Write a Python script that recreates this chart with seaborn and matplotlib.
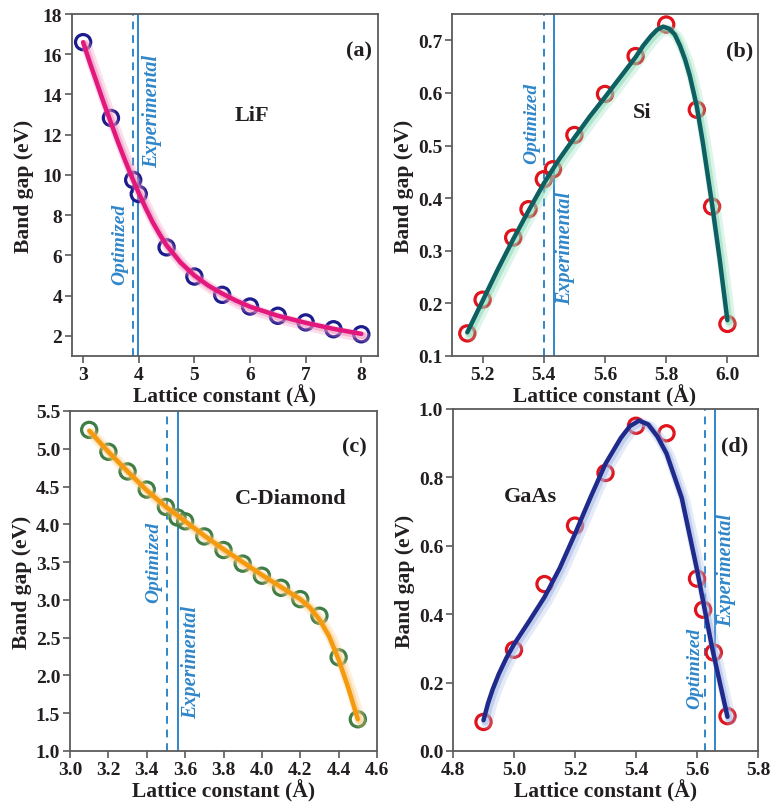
import matplotlib
matplotlib.use("Agg")
import matplotlib.pyplot as plt
import matplotlib.patheffects as pe
import seaborn as sns

# ---------------- LiF ----------------
lif_a = [3.0, 3.5, 3.9, 4.0, 4.5, 5.0, 5.5, 6.0, 6.5, 7.0, 7.5, 8.0]
lif_gap = [16.6, 12.83, 9.75, 9.05, 6.40, 4.95, 4.04, 3.46, 3.0, 2.67, 2.33, 2.08]
lif_fit_a = [3.0, 3.125, 3.25, 3.375, 3.5, 3.625, 3.75, 3.875, 4.0, 4.125, 4.25, 4.375,
             4.5, 4.75, 5.0, 5.25, 5.5, 5.75, 6.0, 6.5, 7.0, 7.5, 8.0]
lif_fit_gap = [16.6, 15.55, 14.55, 13.55, 12.6, 11.65, 10.75, 9.9, 9.1, 8.35, 7.65, 7.05,
               6.5, 5.65, 5.0, 4.5, 4.1, 3.75, 3.45, 3.0, 2.65, 2.35, 2.1]
lif_opt, lif_exp = 3.89, 3.98

# ---------------- Si ----------------
si_a = [5.15, 5.2, 5.3, 5.35, 5.40, 5.43, 5.5, 5.6, 5.7, 5.8, 5.9, 5.95, 6.0]
si_gap = [0.143, 0.207, 0.325, 0.379, 0.436, 0.455, 0.520, 0.598, 0.670, 0.730, 0.568, 0.384, 0.161]
si_fit_a = [5.15, 5.2, 5.25, 5.3, 5.35, 5.4, 5.45, 5.5, 5.55, 5.6, 5.65, 5.7, 5.725, 5.75,
            5.77, 5.79, 5.81, 5.828, 5.845, 5.862, 5.877, 5.89, 5.9, 5.92, 5.95, 5.975, 6.0]
si_fit_gap = [0.145, 0.205, 0.265, 0.322, 0.376, 0.428, 0.474, 0.515, 0.555, 0.592, 0.630, 0.668,
              0.690, 0.708, 0.720, 0.726, 0.722, 0.711, 0.690, 0.663, 0.633, 0.600, 0.574, 0.505,
              0.388, 0.283, 0.168]
si_opt, si_exp = 5.402, 5.434

# ---------------- C-Diamond ----------------
c_a = [3.1, 3.2, 3.3, 3.4, 3.5, 3.56, 3.6, 3.7, 3.8, 3.9, 4.0, 4.1, 4.2, 4.3, 4.4, 4.5]
c_gap = [5.25, 4.96, 4.70, 4.46, 4.23, 4.09, 4.04, 3.84, 3.66, 3.48, 3.32, 3.16, 3.01, 2.79, 2.24, 1.42]
c_fit_a = [3.1, 3.2, 3.3, 3.4, 3.5, 3.6, 3.7, 3.8, 3.9, 4.0, 4.1, 4.2, 4.25, 4.3, 4.35,
           4.4, 4.45, 4.5]
c_fit_gap = [5.24, 4.96, 4.70, 4.45, 4.23, 4.04, 3.85, 3.67, 3.50, 3.33, 3.17, 3.01, 2.90,
             2.74, 2.52, 2.21, 1.84, 1.42]
c_opt, c_exp = 3.508, 3.565

# ---------------- GaAs ----------------
gaas_a = [4.9, 5.0, 5.1, 5.2, 5.3, 5.4, 5.5, 5.6, 5.62, 5.655, 5.7]
gaas_gap = [0.085, 0.296, 0.488, 0.659, 0.813, 0.951, 0.929, 0.504, 0.413, 0.288, 0.102]
gaas_fit_a = [4.9, 4.915, 4.93, 4.95, 4.975, 5.0, 5.05, 5.1, 5.15, 5.2, 5.25, 5.3, 5.35, 5.38,
              5.41, 5.44, 5.47, 5.5, 5.55, 5.6, 5.65, 5.7]
gaas_fit_gap = [0.09, 0.14, 0.18, 0.225, 0.272, 0.312, 0.38, 0.45, 0.535, 0.635, 0.74, 0.84,
                0.915, 0.95, 0.966, 0.955, 0.92, 0.87, 0.74, 0.53, 0.30, 0.10]
gaas_opt, gaas_exp = 5.625, 5.66

sns.set_style("ticks")
plt.rcParams["font.family"] = ["Liberation Serif", "DejaVu Serif"]
plt.rcParams["font.weight"] = "bold"
plt.rcParams["axes.labelweight"] = "bold"

SPINE = "#5b5b5b"
TEXT = "#231f20"
REF = "#2f86c9"

W, H = 771, 803
fig = plt.figure(figsize=(W / 100, H / 100), dpi=100)


def box(l, t, r, b):
    return [l / W, 1 - b / H, (r - l) / W, (b - t) / H]


panels = [
    dict(rect=box(72, 15, 378, 357), a=lif_a, g=lif_gap, fa=lif_fit_a, fg=lif_fit_gap,
         opt=lif_opt, exp=lif_exp, line="#e2187c", glow="#f08bbb", mk="#1c1c8c",
         xlim=(2.8, 8.3), ylim=(1, 18), xt=[3, 4, 5, 6, 7, 8], yt=list(range(2, 19, 2)),
         xf="{:.0f}", yf="{:.0f}", name="LiF", name_xy=(6.03, 13.0), tag="(a)", tag_xy=(7.96, 16.2),
         opt_xy=(3.66, 6.6), exp_xy=(4.24, 13.2)),
    dict(rect=box(452, 15, 758, 357), a=si_a, g=si_gap, fa=si_fit_a, fg=si_fit_gap,
         opt=si_opt, exp=si_exp, line="#0d5f62", glow="#86d9b4", mk="#e0141c",
         xlim=(5.1, 6.1), ylim=(0.1, 0.75), xt=[5.2, 5.4, 5.6, 5.8, 6.0],
         yt=[0.1, 0.2, 0.3, 0.4, 0.5, 0.6, 0.7], xf="{:.1f}", yf="{:.1f}", name="Si",
         name_xy=(5.72, 0.563), tag="(b)", tag_xy=(6.04, 0.681),
         opt_xy=(5.361, 0.544), exp_xy=(5.47, 0.306)),
    dict(rect=box(70, 412, 377, 752), a=c_a, g=c_gap, fa=c_fit_a, fg=c_fit_gap,
         opt=c_opt, exp=c_exp, line="#f59a0e", glow="#f9c77a", mk="#3f7d46",
         xlim=(3.0, 4.6), ylim=(1.0, 5.5), xt=[3.0, 3.2, 3.4, 3.6, 3.8, 4.0, 4.2, 4.4, 4.6],
         yt=[1.0, 1.5, 2.0, 2.5, 3.0, 3.5, 4.0, 4.5, 5.0, 5.5], xf="{:.1f}", yf="{:.1f}",
         name="C-Diamond", name_xy=(4.148, 4.35), tag="(c)", tag_xy=(4.48, 5.03),
         opt_xy=(3.438, 3.513), exp_xy=(3.631, 2.19)),
    dict(rect=box(453, 410, 758, 752), a=gaas_a, g=gaas_gap, fa=gaas_fit_a, fg=gaas_fit_gap,
         opt=gaas_opt, exp=gaas_exp, line="#1f2a8c", glow="#9fb6e4", mk="#e0141c",
         xlim=(4.8, 5.8), ylim=(0.0, 1.0), xt=[4.8, 5.0, 5.2, 5.4, 5.6, 5.8],
         yt=[0.0, 0.2, 0.4, 0.6, 0.8, 1.0], xf="{:.1f}", yf="{:.1f}", name="GaAs",
         name_xy=(5.053, 0.746), tag="(d)", tag_xy=(5.723, 0.894),
         opt_xy=(5.593, 0.244), exp_xy=(5.696, 0.532)),
]

for p in panels:
    ax = fig.add_axes(p["rect"])

    ax.axvline(p["opt"], color=REF, lw=1.4, ls=(0, (4, 3)), zorder=1)
    ax.axvline(p["exp"], color=REF, lw=1.4, zorder=1)

    sns.scatterplot(x=p["a"], y=p["g"], ax=ax, marker="o", s=120, facecolors="none",
                    edgecolors=p["mk"], linewidth=2.3, zorder=3)

    # soft halo offset to the lower right of the fitted curve
    glow = [
        pe.SimpleLineShadow(offset=(2.2, -2.2), shadow_color=p["glow"], alpha=0.28, linewidth=8),
        pe.SimpleLineShadow(offset=(1.3, -1.3), shadow_color=p["glow"], alpha=0.5, linewidth=5),
        pe.Normal(),
    ]
    sns.lineplot(x=p["fa"], y=p["fg"], ax=ax, color=p["line"], lw=3.2, sort=False,
                 estimator=None, zorder=4, path_effects=glow)

    ax.set_xlim(*p["xlim"])
    ax.set_ylim(*p["ylim"])
    ax.set_xticks(p["xt"])
    ax.set_yticks(p["yt"])
    ax.set_xticklabels([p["xf"].format(v) for v in p["xt"]])
    ax.set_yticklabels([p["yf"].format(v) for v in p["yt"]])
    ax.tick_params(direction="out", length=5, width=1.2, color=SPINE, labelsize=14,
                   labelcolor=TEXT, pad=2, top=False, right=False)
    for s in ax.spines.values():
        s.set_color(SPINE)
        s.set_linewidth(1.3)

    ax.set_xlabel("Lattice constant (Å)", fontsize=15.5, color=TEXT)
    ax.set_ylabel("Band gap (eV)", fontsize=15.5, color=TEXT)
    ax.xaxis.set_label_coords(0.5, -0.082)
    ax.yaxis.set_label_coords(-0.125, 0.5)

    ax.text(*p["name_xy"], p["name"], fontsize=16, color=TEXT, ha="center", va="center")
    ax.text(*p["tag_xy"], p["tag"], fontsize=16, color=TEXT, ha="center", va="center")
    ax.text(*p["opt_xy"], "Optimized", fontsize=14, color=REF, style="italic",
            rotation=90, ha="center", va="center")
    ax.text(*p["exp_xy"], "Experimental", fontsize=14.5, color=REF, style="italic",
            rotation=90, ha="center", va="center")

fig.savefig("out.png", dpi=100)
